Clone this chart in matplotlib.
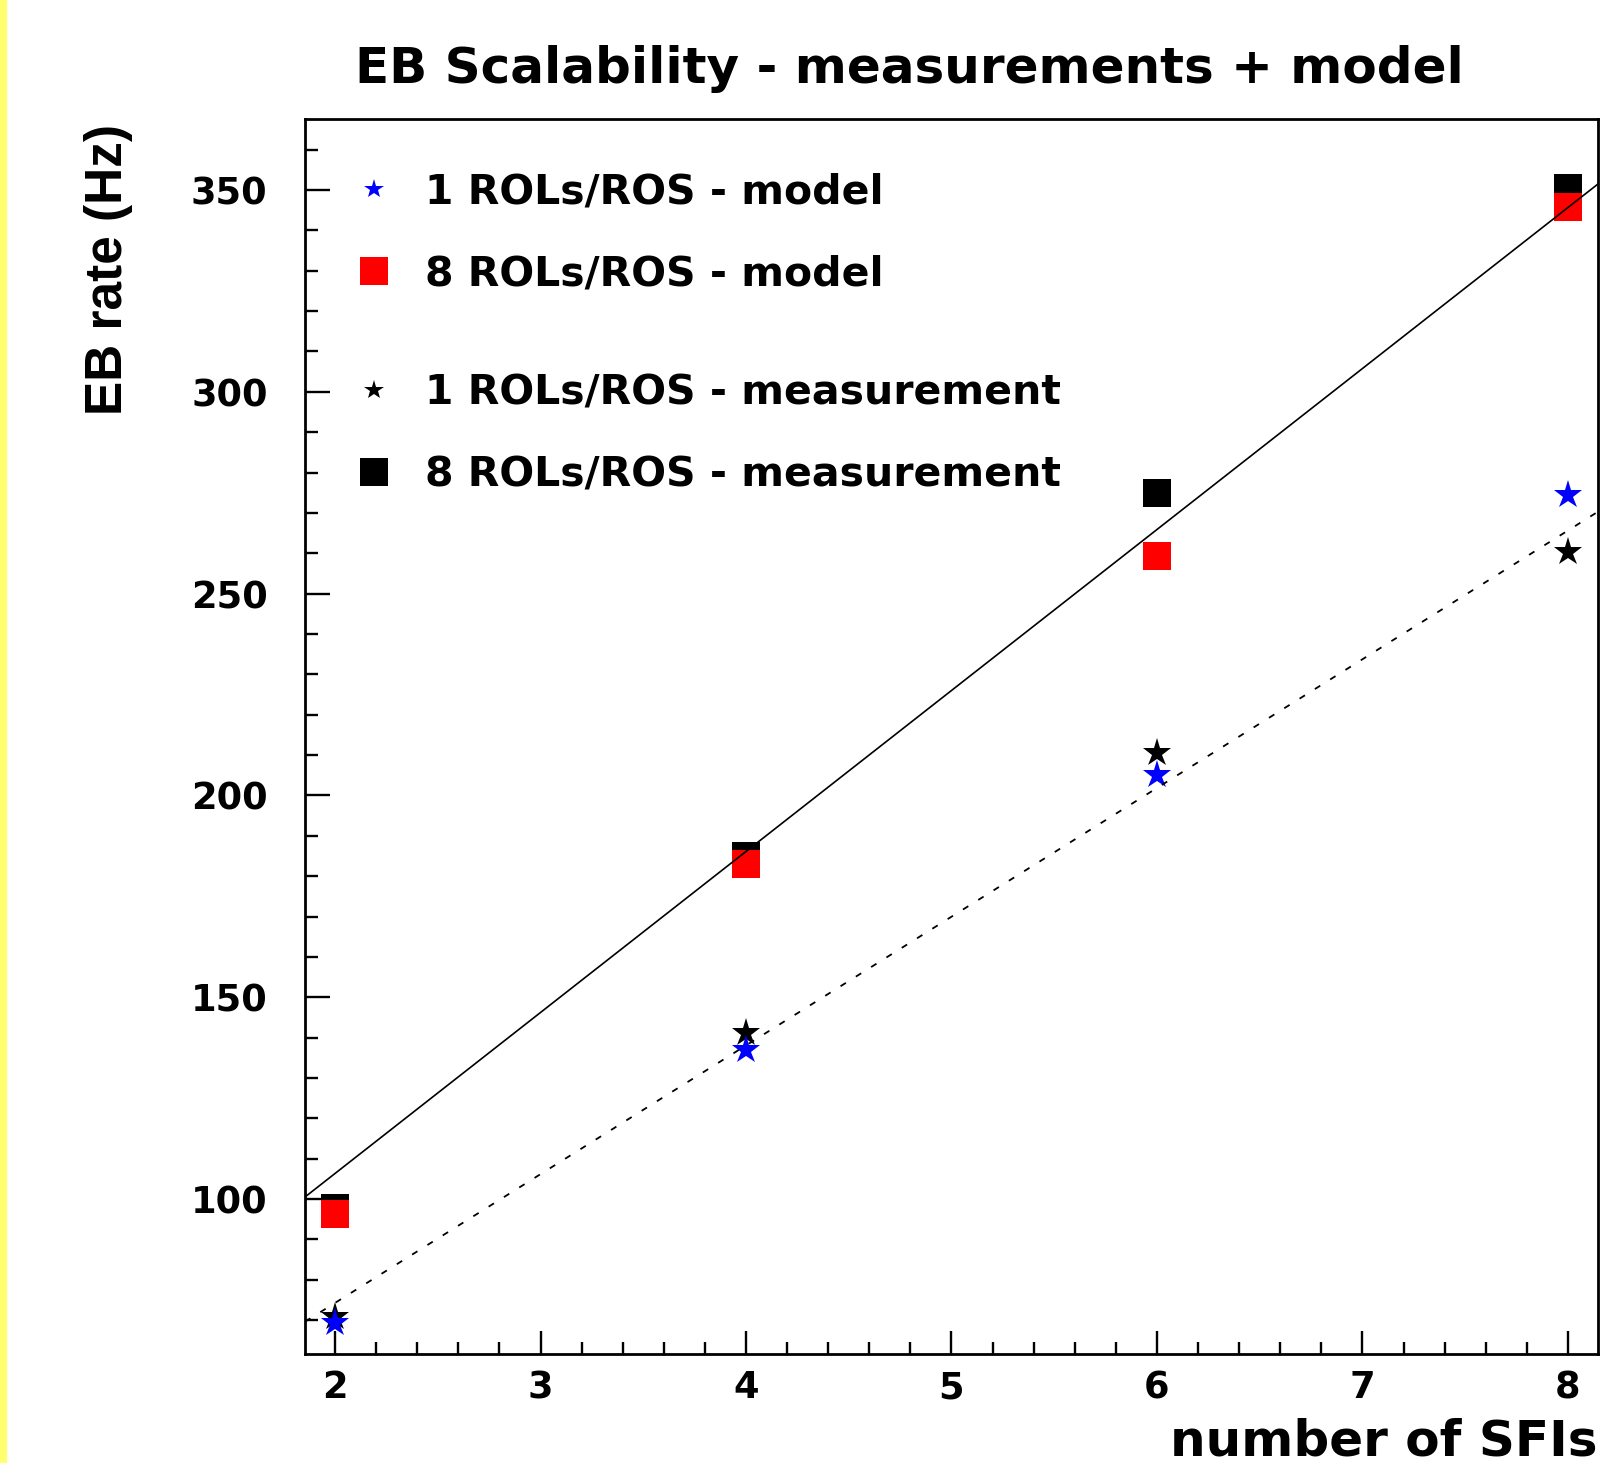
import matplotlib
matplotlib.use('Agg')
import matplotlib.pyplot as plt
from matplotlib.patches import Rectangle
from matplotlib.ticker import MultipleLocator

# data
n_sfi = [2, 4, 6, 8]
model_1rol = [69.3, 137.0, 205.1, 274.4]     # blue stars
model_8rol = [96.3, 182.9, 259.4, 345.7]     # red squares
meas_1rol = [70.7, 141.1, 210.5, 260.4]      # black stars
meas_8rol = [97.7, 185.1, 274.9, 350.4]      # black squares

# straight lines across the frame (end points)
line_x = [1.854, 8.146]
line_8rol = [100.5, 351.5]
line_1rol = [69.6, 270.3]

labels = ['1 ROLs/ROS - model', '8 ROLs/ROS - model',
          '1 ROLs/ROS - measurement', '8 ROLs/ROS - measurement']

plt.rcParams['font.family'] = ['DejaVu Sans']
plt.rcParams['font.weight'] = 'bold'

fig = plt.figure(figsize=(16.18, 14.63), dpi=100)
ax = fig.add_axes([305 / 1618, 1 - 1354 / 1463, 1293 / 1618, 1235 / 1463])

# yellow strip on the left edge
fig.patches.append(Rectangle((0, 0), 6 / 1618, 1, transform=fig.transFigure,
                             color='#ffff70', zorder=0))

# measurements first, model on top
ax.plot(n_sfi, meas_8rol, 's', color='black', ms=20, mew=0, zorder=2)
ax.plot(n_sfi, meas_1rol, '*', color='black', ms=21, mew=0, zorder=2)
ax.plot(n_sfi, model_8rol, 's', color='red', ms=20, mew=0, zorder=3)
ax.plot(n_sfi, model_1rol, '*', color='blue', ms=21, mew=0, zorder=3)

ax.plot(line_x, line_8rol, '-', color='black', lw=1.2, zorder=4)
ax.plot(line_x, line_1rol, color='black', lw=1.3, ls=(0, (3.5, 6.5)), zorder=4)

ax.set_xlim(1.854, 8.146)
ax.set_ylim(61.6, 367.6)

ax.xaxis.set_major_locator(MultipleLocator(1))
ax.xaxis.set_minor_locator(MultipleLocator(0.2))
ax.yaxis.set_major_locator(MultipleLocator(50))
ax.yaxis.set_minor_locator(MultipleLocator(10))
ax.tick_params(axis='x', which='major', direction='in', length=16.5, width=1.7,
               labelsize=26.5, pad=11)
ax.tick_params(axis='x', which='minor', direction='in', length=8.6, width=1.7)
ax.tick_params(axis='y', which='major', direction='in', length=18, width=1.7,
               labelsize=26.5, pad=27)
ax.tick_params(axis='y', which='minor', direction='in', length=9.4, width=1.7)
for lab in ax.get_xticklabels() + ax.get_yticklabels():
    lab.set_fontweight('bold')
for sp in ax.spines.values():
    sp.set_linewidth(2)

# legend: two groups with a gap between them
h = ax.get_lines()
leg_kw = dict(loc='center left', frameon=False, fontsize=29.5, handlelength=1.0,
              handletextpad=0.74, borderpad=0, borderaxespad=0, labelspacing=1.03)
leg1 = ax.legend([h[3], h[2]], labels[:2], bbox_to_anchor=(0.0375, 0.9075), **leg_kw)
leg1.legend_handles[0].set_markersize(15)
ax.add_artist(leg1)
leg2 = ax.legend([h[1], h[0]], labels[2:], bbox_to_anchor=(0.0375, 0.7445), **leg_kw)
leg2.legend_handles[0].set_markersize(15)
for t in leg1.get_texts() + leg2.get_texts():
    t.set_fontweight('bold')

ax.set_xlabel('number of SFIs', fontsize=36, fontweight='bold', ha='right',
              va='baseline')
ax.xaxis.set_label_coords(1.0, -0.0818)
ax.set_ylabel('EB rate (Hz)', family=['Liberation Sans', 'DejaVu Sans'],
              fontsize=37, fontweight='bold', ha='right', va='center')
ax.yaxis.set_label_coords(-0.152, 0.996)

fig.text(909 / 1618, 1 - 83 / 1463, 'EB Scalability - measurements + model',
         fontsize=36, fontweight='bold', ha='center', va='baseline')

fig.savefig('out.png', dpi=100)
